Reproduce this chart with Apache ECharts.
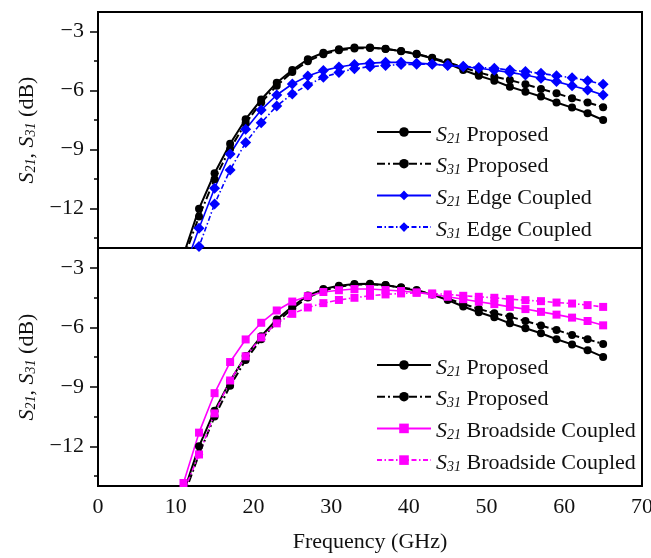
<!DOCTYPE html>
<html>
<head>
<meta charset="utf-8">
<script src="https://cdn.jsdelivr.net/npm/echarts@6/dist/echarts.min.js"></script>
<style>
  html, body { margin: 0; padding: 0; background: #fff; }
  #chart { width: 651px; height: 558px; }
</style>
</head>
<body>
<div id="chart"></div>
<script>
// frequency points (GHz)
var freq = [11,13,15,17,19,21,23,25,27,29,31,33,35,37,39,41,43,45,47,49,51,53,55,57,59,61,63,65];

// proposed coupler (same in both panels)
var s21_prop = [-14.35,-12.0,-10.2,-8.7,-7.45,-6.45,-5.6,-4.95,-4.4,-4.07,-3.9,-3.81,-3.8,-3.87,-4.0,-4.15,-4.35,-4.62,-4.95,-5.24,-5.49,-5.8,-6.05,-6.3,-6.6,-6.86,-7.15,-7.49];
var s31_prop = [-14.55,-12.4,-10.5,-8.95,-7.65,-6.6,-5.75,-5.05,-4.5,-4.15,-3.95,-3.85,-3.83,-3.88,-3.98,-4.12,-4.33,-4.55,-4.82,-5.07,-5.29,-5.46,-5.68,-5.91,-6.13,-6.39,-6.6,-6.84];

// edge coupled (upper panel)
var s21_edge = [-15.2,-13.0,-10.96,-9.22,-7.96,-6.98,-6.22,-5.66,-5.25,-4.98,-4.8,-4.67,-4.6,-4.56,-4.56,-4.6,-4.65,-4.72,-4.78,-4.86,-4.96,-5.07,-5.2,-5.37,-5.54,-5.75,-5.96,-6.22];
var s31_edge = [-16.5,-13.93,-11.76,-10.03,-8.64,-7.63,-6.78,-6.17,-5.71,-5.32,-5.08,-4.88,-4.78,-4.72,-4.67,-4.66,-4.66,-4.7,-4.76,-4.82,-4.86,-4.95,-5.03,-5.12,-5.24,-5.34,-5.49,-5.68];

// broadside coupled (lower panel)
var s21_broad = [-13.85,-11.31,-9.32,-7.75,-6.61,-5.77,-5.15,-4.7,-4.43,-4.22,-4.13,-4.07,-4.07,-4.12,-4.17,-4.24,-4.34,-4.46,-4.58,-4.71,-4.83,-4.97,-5.08,-5.22,-5.36,-5.51,-5.68,-5.9];
var s31_broad = [-14.3,-12.41,-10.34,-8.68,-7.46,-6.51,-5.8,-5.32,-5.0,-4.78,-4.62,-4.51,-4.41,-4.34,-4.29,-4.26,-4.29,-4.34,-4.41,-4.46,-4.51,-4.58,-4.63,-4.68,-4.75,-4.8,-4.88,-4.97];

var yLabels = [-3,-6,-9,-12];
var yMinor = [-4.5,-7.5,-10.5,-13.5];

var FONT = '"Liberation Serif", "DejaVu Serif", serif';
var FS = 22;

function pairs(ys) {
  var out = [];
  for (var i = 0; i < freq.length; i++) out.push([freq[i], ys[i]]);
  return out;
}

var subRich = {
  i: { fontFamily: FONT, fontStyle: 'italic', fontSize: FS, color: '#111', lineHeight: 28, verticalAlign: 'bottom' },
  s: { fontFamily: FONT, fontStyle: 'italic', fontSize: 14, color: '#111', lineHeight: 28, verticalAlign: 'bottom' },
  n: { fontFamily: FONT, fontSize: FS, color: '#111', lineHeight: 28, verticalAlign: 'bottom' }
};

function legendName(name) {
  // "S21 Proposed" -> S + subscript 21 + rest
  var sub = name.substr(1, 2);
  var rest = name.substr(3).replace(/\s+$/, '');
  return '{i|S}{s|' + sub + '}{n|' + rest + '}';
}

function mkLine(name, data, color, dashed, symbol, size, gi) {
  return {
    name: name,
    type: 'line',
    xAxisIndex: gi,
    yAxisIndex: gi * 2,
    data: pairs(data),
    symbol: symbol,
    symbolSize: size,
    showSymbol: true,
    clip: true,
    lineStyle: {
      color: color,
      width: color == '#000' ? 2 : 1.6,
      type: dashed ? (color == '#000' ? [8, 3, 2, 3] : [5, 2.5, 1.5, 2.5]) : 'solid'
    },
    itemStyle: { color: color },
    emphasis: { disabled: true },
    animation: false
  };
}

function yAxisPair(gi) {
  var main = {
    type: 'value', gridIndex: gi, position: 'left', min: -14, max: -2,
    axisLine: { show: true, lineStyle: { color: '#000', width: 2 } },
    axisTick: { show: true, length: 8, customValues: yLabels, lineStyle: { color: '#000', width: 1.5 } },
    axisLabel: {
      customValues: yLabels, margin: 14, fontFamily: FONT, fontSize: FS, color: '#111',
      formatter: function (v) { return String(v).replace('-', '\u2212'); }
    },
    splitLine: { show: false },
    name: '{i|S}{s|21}{n|, }{i|S}{s|31}{n| (dB)}',
    nameLocation: 'middle', nameRotate: 90, nameGap: 57,
    nameTextStyle: { rich: subRich }
  };
  var minor = {
    type: 'value', gridIndex: gi, position: 'left', offset: 0, min: -14, max: -2,
    axisLine: { show: false },
    axisTick: { show: true, length: 4, customValues: yMinor, lineStyle: { color: '#000', width: 1.5 } },
    axisLabel: { show: false },
    splitLine: { show: false }
  };
  return [main, minor];
}

var chart = echarts.init(document.getElementById('chart'), null, { renderer: 'canvas' });

var yAxes = yAxisPair(0).concat(yAxisPair(1));

var option = {
  backgroundColor: '#fff',
  animation: false,
  grid: [
    { left: 98, right: 9, top: 12, height: 236, outerBoundsMode: 'none', containLabel: false,
      show: true, borderColor: '#000', borderWidth: 2, backgroundColor: 'transparent' },
    { left: 98, right: 9, top: 248, height: 238, outerBoundsMode: 'none', containLabel: false,
      show: true, borderColor: '#000', borderWidth: 2, backgroundColor: 'transparent' }
  ],
  xAxis: [
    {
      type: 'value', gridIndex: 0, min: 0, max: 70, interval: 10,
      axisLine: { show: true, lineStyle: { color: '#000', width: 2 } },
      axisTick: { show: false }, axisLabel: { show: false }, splitLine: { show: false }
    },
    {
      type: 'value', gridIndex: 1, min: 0, max: 70, interval: 10,
      axisLine: { show: true, lineStyle: { color: '#000', width: 2 } },
      axisTick: { show: false },
      axisLabel: { margin: 10, fontFamily: FONT, fontSize: FS, color: '#111' },
      splitLine: { show: false },
      name: 'Frequency (GHz)', nameLocation: 'middle', nameGap: 45,
      nameTextStyle: { fontFamily: FONT, fontSize: FS, color: '#111' }
    }
  ],
  yAxis: yAxes,
  legend: [
    {
      orient: 'vertical', left: 376, top: 124, padding: 0, itemWidth: 54, itemHeight: 12, itemGap: 9.7,
      data: ['S21 Proposed', 'S31 Proposed', 'S21 Edge Coupled', 'S31 Edge Coupled'],
      formatter: legendName,
      textStyle: { rich: subRich },
      selectedMode: false
    },
    {
      orient: 'vertical', left: 376, top: 357, padding: 0, itemWidth: 54, itemHeight: 12, itemGap: 9.7,
      data: ['S21 Proposed ', 'S31 Proposed ', 'S21 Broadside Coupled', 'S31 Broadside Coupled'],
      formatter: legendName,
      textStyle: { rich: subRich },
      selectedMode: false
    }
  ],
  series: [
    mkLine('S21 Proposed', s21_prop, '#000', false, 'circle', 8, 0),
    mkLine('S31 Proposed', s31_prop, '#000', true, 'circle', 8, 0),
    mkLine('S21 Edge Coupled', s21_edge, '#0000ff', false, 'diamond', 11, 0),
    mkLine('S31 Edge Coupled', s31_edge, '#0000ff', true, 'diamond', 11, 0),
    mkLine('S21 Proposed ', s21_prop, '#000', false, 'circle', 8, 1),
    mkLine('S31 Proposed ', s31_prop, '#000', true, 'circle', 8, 1),
    mkLine('S21 Broadside Coupled', s21_broad, '#ff00ff', false, 'rect', 8, 1),
    mkLine('S31 Broadside Coupled', s31_broad, '#ff00ff', true, 'rect', 8, 1)
  ]
};

chart.setOption(option);
</script>
</body>
</html>
